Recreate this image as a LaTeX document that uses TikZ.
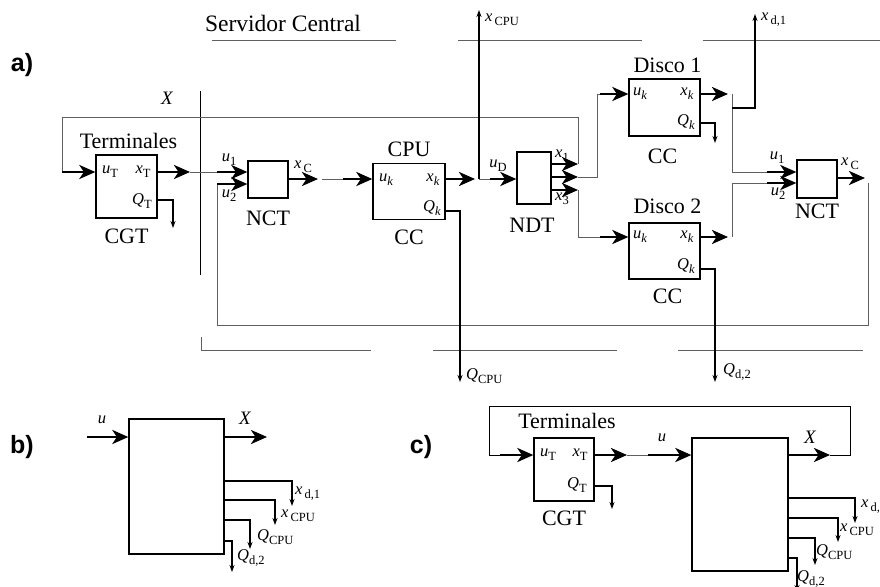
\documentclass[tikz,border=0pt]{standalone}
\usepackage{fontspec}
\setmainfont{Liberation Serif}
\newfontfamily\tagfont{Liberation Sans}
\usepackage{tikz}
\usetikzlibrary{arrows.meta,positioning,calc}
\usepackage{xcolor}
\definecolor{wiregray}{RGB}{95,95,95}
\newcommand{\vsub}[2]{\textit{#1}\raisebox{-0.5ex}{\fontsize{12.5}{13}\selectfont #2}}

\begin{document}
\begin{tikzpicture}[x=1pt,y=-1pt,
  every node/.style={inner sep=0pt,font=\fontsize{16.5}{18}\selectfont},
  box/.style={draw,line width=1.3pt},
  title/.style={font=\fontsize{22}{24}\selectfont},
  tag/.style={font=\tagfont\bfseries\fontsize{25}{28}\selectfont},
  bigx/.style={font=\fontsize{19}{20}\selectfont\itshape},
  wire/.style={draw=wiregray,line width=1pt},
  bracket/.style={draw=wiregray,line width=1pt},
  bus/.style={line width=2.6pt,-{Stealth[length=16pt,width=14pt,inset=4.5pt]}},
  tap/.style={line width=1.2pt,-{Stealth[length=7pt,width=5pt]}}]
\useasboundingbox (0,0) rectangle (880,586);

% a) red de colas
\node[tag] (tagA) at (22,65) {a)};
\node[title,font=\fontsize{23.5}{26}\selectfont] (servidor) at (283,23) {Servidor Central};
\draw[bracket] (212,41) -- (396,41) (458,41) -- (642,41) (703,41) -- (880,41);
\draw[bracket] (201,337) |- (371,350) (433,350) -- (617,350) (678,350) -- (863,350);
\draw[line width=1pt] (200,91) -- (200,275);
\node[bigx] (lbXa) at (167,98) {X};

\node[box,minimum width=61pt,minimum height=63pt] (cgtA) at (126.5,186.5) {};
\node[box,minimum width=40pt,minimum height=37pt] (nctA) at (268,179.5) {};
\node[box,minimum width=72pt,minimum height=56pt] (cpu) at (409,191.5) {};
\node[box,minimum width=34pt,minimum height=52pt] (ndt) at (534,178) {};
\node[box,minimum width=71pt,minimum height=57pt] (disA) at (664.5,107.5) {};
\node[box,minimum width=71pt,minimum height=56pt] (disB) at (664.5,251) {};
\node[box,minimum width=40pt,minimum height=38pt] (nctB) at (817,179) {};

\node[title,above=5pt of cgtA,xshift=2pt] (termA) {Terminales};
\node[title,below=10pt of cgtA] (cgtAname) {CGT};
\node[title,below=12pt of nctA] (nctAname) {NCT};
\node[title,above=6pt of cpu] (cpuname) {CPU};
\node[title,below=10pt of cpu] (cpucc) {CC};
\node[title,below=13pt of ndt,xshift=-2pt] (ndtname) {NDT};
\node[title,above=5pt of disA,xshift=3pt] (disAname) {Disco 1};
\node[title,below=12pt of disA,xshift=-2pt] (disAcc) {CC};
\node[title,above=8pt of disB,xshift=3pt] (disBname) {Disco 2};
\node[title,below=9pt of disB,xshift=3pt] (disBcc) {CC};
\node[title,below=5pt of nctB] (nctBname) {NCT};

\node (lbUTa) at (110,172) {\vsub{u}{T}};
\node (lbXTa) at (143,172) {\vsub{x}{T}};
\node (lbQTa) at (142,201) {\vsub{Q}{T}};
\node (lbU1a) at (229,160) {\vsub{u}{1}};
\node (lbU2a) at (229,196) {\vsub{u}{2}};
\node (lbXCa) at (303,167) {\vsub{x}{\,C}};
\node (lbUkC) at (386,180) {\vsub{u}{\textit{k}}};
\node (lbXkC) at (433,180) {\vsub{x}{\textit{k}}};
\node (lbQkC) at (432,208) {\vsub{Q}{\textit{k}}};
\node (lbUD) at (498,166) {\vsub{u}{D}};
\node (lbX1) at (562,156) {\vsub{x}{1}};
\node (lbX3) at (562,199) {\vsub{x}{3}};
\node[anchor=west] (lbXcpu) at (485,20) {\vsub{x}{\,CPU}};
\node[anchor=west] (lbQcpu) at (466,376) {\vsub{Q}{CPU}};
\node (lbUkA) at (640,94) {\vsub{u}{\textit{k}}};
\node (lbXkA) at (687,94) {\vsub{x}{\textit{k}}};
\node (lbQkA) at (686,122) {\vsub{Q}{\textit{k}}};
\node[anchor=west] (lbXd1) at (761,20) {\vsub{x}{\,d,1}};
\node (lbUkB) at (640,237) {\vsub{u}{\textit{k}}};
\node (lbXkB) at (687,237) {\vsub{x}{\textit{k}}};
\node (lbQkB) at (686,266) {\vsub{Q}{\textit{k}}};
\node[anchor=west] (lbQd2) at (723,372) {\vsub{Q}{d,2}};
\node (lbU1b) at (777,158) {\vsub{u}{1}};
\node (lbU2b) at (778,194) {\vsub{u}{2}};
\node (lbXCb) at (850,164) {\vsub{x}{\,C}};

\coordinate (retTL) at (62,117);
\coordinate (retIn) at (62,172);
\coordinate (xTa1) at (190,172);
\coordinate (u1a) at (217,172);
\coordinate (u2a) at (217,184);
\coordinate (retBL) at (217,325);
\coordinate (retBR) at (868,325);
\coordinate (retBT) at (868,183);
\coordinate (qTaEnd) at (173,228);
\coordinate (xCa1) at (318,179);
\coordinate (xCa2) at (322,179);
\coordinate (xCa3) at (343,179);
\coordinate (cpuTip) at (475,179);
\coordinate (cpuJ) at (479,179);
\coordinate (xcpuEnd) at (479,10);
\coordinate (uDa) at (490,179);
\coordinate (qcpuEnd) at (460,382);
\coordinate (nd1) at (578,164);
\coordinate (nd2) at (578,177);
\coordinate (nd3) at (578,190);
\coordinate (retTR) at (578,117);
\coordinate (dAup) at (597,94);
\coordinate (dAin) at (600,94);
\coordinate (dBin) at (600,237);
\coordinate (dAtip) at (728,94);
\coordinate (dAj) at (732,94);
\coordinate (dAk) at (732,108);
\coordinate (xd1End) at (755,14);
\coordinate (u1b) at (767,172);
\coordinate (dBtip) at (728,237);
\coordinate (dBj) at (732,237);
\coordinate (u2b) at (767,183);
\coordinate (qdAEnd) at (715,143);
\coordinate (qdBEnd) at (715,382);
\coordinate (xCbTip) at (865,178);

\draw[wire] (nd1) -- (retTR) -- (retTL) -- (retIn);
\draw[bus] (retIn) -- (cgtA.west |- retIn);
\draw[bus] (cgtA.east |- retIn) -- (xTa1);
\draw[wire] (xTa1) -- (u1a);
\draw[bus] (u1a) -- (nctA.west |- u1a);
\draw[wire] (retBT) -- (retBR) -- (retBL) -- (u2a);
\draw[bus] (u2a) -- (nctA.west |- u2a);
\draw[tap] (cgtA.east |- 0,200) -| (qTaEnd);
\draw[bus] (nctA.east |- xCa1) -- (xCa1);
\draw[wire] (xCa2) -- (xCa3);
\draw[bus] (xCa3) -- (cpu.west |- xCa3);
\draw[bus] (cpu.east |- cpuTip) -- (cpuTip);
\draw[wire] (cpuJ) -- (uDa);
\draw[tap] (cpuJ) -- (xcpuEnd);
\draw[bus] (uDa) -- (ndt.west |- uDa);
\draw[tap] (cpu.east |- 0,211) -| (qcpuEnd);
\foreach \k in {1,2,3}
  \draw[bus] (ndt.east |- nd\k) -- (nd\k);
\draw[wire] (nd2) -| (dAup) -- (dAin);
\draw[bus] (dAin) -- (disA.west |- dAin);
\draw[wire] (nd3) |- (dBin);
\draw[bus] (dBin) -- (disB.west |- dBin);
\draw[bus] (disA.east |- dAtip) -- (dAtip);
\draw[wire] (dAj) |- (u1b);
\draw[tap] (dAk) -| (xd1End);
\draw[bus] (u1b) -- (nctB.west |- u1b);
\draw[tap] (disA.east |- 0,123) -| (qdAEnd);
\draw[bus] (disB.east |- dBtip) -- (dBtip);
\draw[wire] (dBj) |- (u2b);
\draw[bus] (u2b) -- (nctB.west |- u2b);
\draw[tap] (disB.east |- 0,269) -| (qdBEnd);
\draw[bus] (nctB.east |- xCbTip) -- (xCbTip);

% b) caja negra
\node[tag] (tagB) at (22,447) {b)};
\node[box,minimum width=95pt,minimum height=135pt] (boxb) at (176.5,486.5) {};
\coordinate (bIn) at (87,437);
\coordinate (bOut) at (267,437);
\draw[bus] (bIn) -- (boxb.west |- bIn);
\draw[bus] (boxb.east |- bOut) -- (bOut);
\node (lbUb) at (102,420) {\textit{u}};
\node[bigx] (lbXb) at (245,418) {X};
\foreach \yy/\xx/\ye in {481/292/506,500/275/525,520/250/549,541/232/572}
  \draw[tap] (boxb.east |- 0,\yy) -| (\xx,\ye);
\node[anchor=west] (lbXd1b) at (295,494) {\vsub{x}{\,d,1}};
\node[anchor=west] (lbXcpub) at (281,516) {\vsub{x}{\,CPU}};
\node[anchor=west] (lbQcpub) at (257,537) {\vsub{Q}{CPU}};
\node[anchor=west] (lbQd2b) at (237,558) {\vsub{Q}{d,2}};

% c) lazo cerrado
\node[tag] (tagC) at (421,447) {c)};
\node[box,minimum width=60pt,minimum height=63pt] (cgtC) at (564,469.5) {};
\node[box,minimum width=96pt,minimum height=133pt] (boxc) at (740,504.5) {};
\node[title,above=8pt of cgtC,xshift=3pt] (termC) {Terminales};
\node[title,below=9pt of cgtC] (cgtCname) {CGT};
\node (lbUTc) at (548,455) {\vsub{u}{T}};
\node (lbXTc) at (580,455) {\vsub{x}{T}};
\node (lbQTc) at (577,485) {\vsub{Q}{T}};
\node (lbUc) at (662,438) {\textit{u}};
\node[bigx] (lbXc) at (810,437) {X};
\coordinate (cL) at (489,406);
\coordinate (cR) at (850,406);
\coordinate (cX) at (830,455);
\coordinate (cIn) at (500,455);
\coordinate (cT1) at (627,455);
\coordinate (cT2) at (648,455);
\coordinate (qTcEnd) at (612,509);
\draw[bus] (boxc.east |- cX) -- (cX);
\draw[wire,draw=black] (cX) -- (cR |- cX) -- (cR) -- (cL) -- (cL |- cIn) -- (cIn);
\draw[bus] (cIn) -- (cgtC.west |- cIn);
\draw[bus] (cgtC.east |- cT1) -- (cT1);
\draw[wire] (cT1) -- (cT2);
\draw[bus] (cT2) -- (boxc.west |- cT2);
\draw[tap] (cgtC.east |- 0,486) -| (qTcEnd);
\foreach \yy/\xx/\ye in {498/855/523,518/838/542,538/815/565,558/797/592}
  \draw[tap] (boxc.east |- 0,\yy) -| (\xx,\ye);
\node[anchor=west] (lbXd1c) at (861,507) {\vsub{x}{\,d,1}};
\node[anchor=west] (lbXcpuc) at (840,530) {\vsub{x}{\,CPU}};
\node[anchor=west] (lbQcpuc) at (816,552) {\vsub{Q}{CPU}};
\node[anchor=west] (lbQd2c) at (797,579) {\vsub{Q}{d,2}};
\end{tikzpicture}
\end{document}
